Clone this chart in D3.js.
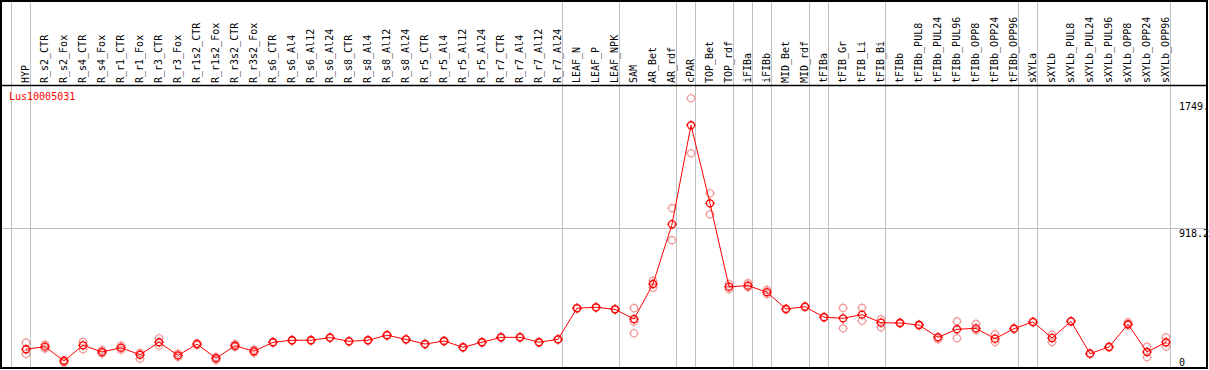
<!DOCTYPE html>
<html>
<head>
<meta charset="utf-8">
<script src="https://cdn.jsdelivr.net/npm/d3@7"></script>
<style>
    body { margin: 0; background: #fff; }
    svg { display: block; }
    text { font-family: "DejaVu Sans Mono", monospace; font-size: 10px; }
</style>
</head>
<body>
<svg id="chart" width="1209" height="370"></svg>
<script>
// Chart data
const columns = ["HYP", "R_s2_CTR", "R_s2_Fox", "R_s4_CTR", "R_s4_Fox", "R_r1_CTR", "R_r1_Fox", "R_r3_CTR", "R_r3_Fox",
    "R_r1s2_CTR", "R_r1s2_Fox", "R_r3s2_CTR", "R_r3s2_Fox", "R_s6_CTR", "R_s6_Al4", "R_s6_Al12", "R_s6_Al24",
    "R_s8_CTR", "R_s8_Al4", "R_s8_Al12", "R_s8_Al24", "R_r5_CTR", "R_r5_Al4", "R_r5_Al12", "R_r5_Al24",
    "R_r7_CTR", "R_r7_Al4", "R_r7_Al12", "R_r7_Al24", "LEAF_N", "LEAF_P", "LEAF_NPK", "SAM", "AR_Bet", "AR_rdf",
    "cPAR", "TOP_Bet", "TOP_rdf", "iFIBa", "iFIBb", "MID_Bet", "MID_rdf", "tFIBa", "tFIB_Gr", "tFIB_Li", "tFIB_Bi",
    "tFIBb", "tFIBb_PUL8", "tFIBb_PUL24", "tFIBb_PUL96", "tFIBb_OPP8", "tFIBb_OPP24", "tFIBb_OPP96",
    "sXYLa", "sXYLb", "sXYLb_PUL8", "sXYLb_PUL24", "sXYLb_PUL96", "sXYLb_OPP8", "sXYLb_OPP24", "sXYLb_OPP96"];

const meanValues = [123, 140, 46, 149, 105, 133, 87, 169, 83, 157, 64, 146, 110, 169, 182, 182, 199,
    175, 182, 215, 188, 157, 177, 136, 169, 201, 201, 169, 188, 392, 398, 385, 321, 551, 943,
    1592, 1080, 533, 540, 497, 387, 402, 333, 326, 350, 297, 295, 282, 201, 254, 260, 192, 258,
    302, 197, 306, 94, 138, 287, 105, 169];

const replicates = [[166, 92], [153, 127], [35, 52], [172, 123], [118, 95], [147, 120], [61, 100], [195, 146],
    [95, 72], [163, 151], [52, 72], [157, 138], [120, 100], [171, 166], [184, 179], [184, 179], [201, 196],
    [177, 173], [184, 179], [217, 212], [190, 186], [160, 155], [179, 175], [138, 133], [171, 166],
    [204, 199], [204, 199], [171, 166], [190, 186], [394, 389], [400, 396], [387, 383], [392, 304, 228],
    [571, 527], [1049, 838], [1769, 1408], [1146, 1008], [551, 516], [556, 529], [512, 485], [390, 384],
    [405, 399], [335, 330], [394, 260], [394, 310], [319, 267], [298, 292], [285, 279], [205, 188],
    [306, 195], [289, 249], [221, 170], [261, 255], [304, 299], [218, 170], [309, 304], [97, 91],
    [140, 135], [300, 280], [140, 70], [201, 140]];

// columns after which a group separator is drawn
const groupEnds = ["HYP", "R_r7_Al24", "LEAF_NPK", "AR_rdf", "cPAR", "TOP_rdf", "iFIBa", "iFIBb", "MID_rdf",
    "tFIBa", "tFIB_Bi", "tFIBb_OPP96", "sXYLa", "sXYLb_OPP96"];

const yTicks = [0, 918.2, 1749.6];
const yTickLabels = ["0", "918.2", "1749."];
const geneName = "Lus10005031";

const bottom = 368;

const svg = d3.select("#chart");

const x = d3.scalePoint()
    .domain(columns)
    .range([26, 26 + 19 * (columns.length - 1)]);

const step = x.step();

const y = d3.scaleLinear()
    .domain([0, 1749.6])
    .range([bottom, 101.2]);

// vertical separators (one before the first column too)
const sepX = [x(columns[0]) - step + 4.5].concat(groupEnds.map(c => x(c) + 4.5));

svg.append("g")
    .selectAll("line")
    .data(sepX)
    .join("line")
    .attr("x1", d => d).attr("x2", d => d)
    .attr("y1", 0).attr("y2", bottom)
    .attr("stroke", "#c0c0c0")
    .attr("stroke-width", 1);

// horizontal grid line for the middle tick
svg.append("g")
    .selectAll("line")
    .data(yTicks.slice(1, -1))
    .join("line")
    .attr("x1", 0).attr("x2", 1207)
    .attr("y1", d => Math.round(y(d)) + 0.5)
    .attr("y2", d => Math.round(y(d)) + 0.5)
    .attr("stroke", "#c0c0c0");

// y labels on the right
svg.append("g")
    .selectAll("text")
    .data(yTicks)
    .join("text")
    .attr("x", 1179)
    .attr("y", (d, i) => i === 0 ? y(d) - 2 : y(d) + 9)
    .attr("fill", "#000")
    .text((d, i) => yTickLabels[i]);

// column headers
svg.append("g")
    .selectAll("text")
    .data(columns)
    .join("text")
    .attr("transform", d => `translate(${x(d) + 2.5},83) rotate(-90)`)
    .attr("fill", "#000")
    .text(d => d);

svg.append("text")
    .attr("x", 9)
    .attr("y", 100)
    .attr("fill", "#ff0000")
    .text(geneName);

const tickPath = "M0,-3.5V-5M0,3.5V5M-3.5,0H-5M3.5,0H5";

// replicate markers
const reps = [];
replicates.forEach((vals, i) => vals.forEach(v => reps.push({ col: columns[i], v: v })));

const repG = svg.append("g")
    .attr("stroke", "#f29a9a")
    .attr("fill", "none")
    .attr("stroke-width", 1.2)
    .selectAll("g")
    .data(reps)
    .join("g")
    .attr("transform", d => `translate(${x(d.col)},${y(d.v)})`);

repG.append("circle").attr("r", 3.5);
repG.append("path").attr("d", tickPath).attr("stroke-width", 1);

// mean line
const line = d3.line()
    .x((d, i) => x(columns[i]))
    .y(d => y(d));

svg.append("path")
    .datum(meanValues)
    .attr("d", line)
    .attr("fill", "none")
    .attr("stroke", "#ff0000")
    .attr("stroke-width", 1);

const meanG = svg.append("g")
    .attr("stroke", "#ff0000")
    .attr("fill", "none")
    .attr("stroke-width", 1.3)
    .selectAll("g")
    .data(meanValues)
    .join("g")
    .attr("transform", (d, i) => `translate(${x(columns[i])},${y(d)})`);

meanG.append("circle").attr("r", 3.5);
meanG.append("path").attr("d", tickPath).attr("stroke-width", 1);

// frame and header rule
svg.append("line")
    .attr("x1", 0).attr("x2", 1207)
    .attr("y1", 85.5).attr("y2", 85.5)
    .attr("stroke", "#000")
    .attr("stroke-width", 1.5);

svg.append("rect")
    .attr("x", 1).attr("y", 1)
    .attr("width", 1206).attr("height", bottom - 1)
    .attr("fill", "none")
    .attr("stroke", "#000")
    .attr("stroke-width", 2);
</script>
</body>
</html>
